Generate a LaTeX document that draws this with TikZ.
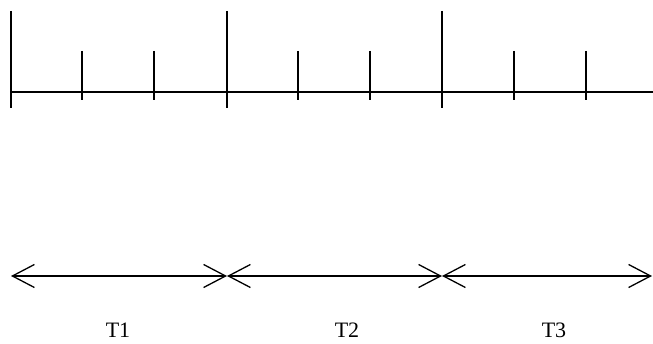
\documentclass[tikz,border=0pt]{standalone}
\usepackage{fontspec}
\setmainfont{Liberation Serif}
\usepackage{tikz}
\usetikzlibrary{arrows.meta, positioning}
\tikzset{
  axisline/.style={line width=1.3pt, black},
  spanarrow/.style={line width=1.3pt, black,
    {Straight Barb[length=22pt, width=23pt, line width=1.3pt]}-{Straight Barb[length=22pt, width=23pt, line width=1.3pt]}},
  spanlabel/.style={font=\fontsize{22}{22}\selectfont, anchor=base, inner sep=0pt}
}

\begin{document}
\begin{tikzpicture}[x=1pt, y=-1pt]
  \useasboundingbox (0,0) rectangle (653,344);

  % --- Time axis with ticks ---
  \coordinate (axisL) at (10,92);
  \coordinate (axisR) at (653,92);
  \draw[axisline] (axisL) -- (axisR);
  % Long ticks (period boundaries)
  \foreach \x in {11, 227, 442}
    \draw[axisline] (\x,11) -- (\x,108);
  % Short ticks
  \foreach \x in {82, 154, 298, 370, 514, 586}
    \draw[axisline] (\x,51) -- (\x,100);

  % --- Periods ---
  \coordinate (p0) at (11,276);
  \coordinate (p1) at (227,276);
  \coordinate (p2) at (442,276);
  \coordinate (p3) at (652,276);
  \draw[spanarrow] (p0) -- (p1);
  \draw[spanarrow] (p1) -- (p2);
  \draw[spanarrow] (p2) -- (p3);

  % Labels
  \node[spanlabel] (t1) at (118,338) {T1};
  \node[spanlabel] (t2) at (347,338) {T2};
  \node[spanlabel] (t3) at (554,338) {T3};
\end{tikzpicture}
\end{document}
